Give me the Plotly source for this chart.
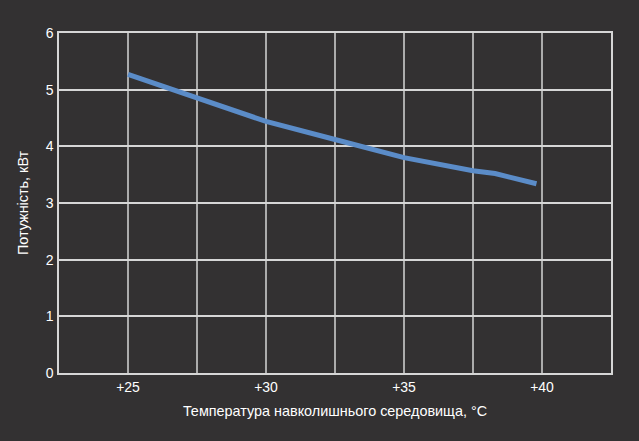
import plotly.graph_objects as go

# Данные
temperature = [25, 27.5, 30, 32.5, 35, 37.5, 38.3, 39.8]
power_kw = [5.27, 4.85, 4.44, 4.12, 3.80, 3.57, 3.52, 3.34]

x_tick_vals = [25, 30, 35, 40]
x_tick_text = ['+25', '+30', '+35', '+40']
y_tick_vals = [0, 1, 2, 3, 4, 5, 6]

bg = '#333132'
grid = '#d6d6d6'
title_font = dict(size=14.4, color='#ffffff')

fig = go.Figure()
fig.add_trace(go.Scatter(x=temperature, y=power_kw, mode='lines',
                         line=dict(color='#5b8cc8', width=5), showlegend=False))

fig.update_layout(
    width=639, height=441,
    paper_bgcolor=bg, plot_bgcolor=bg,
    margin=dict(l=59, r=28, t=33, b=68),
    font=dict(family='Liberation Sans, Arial, sans-serif', size=14, color='#ffffff'),
)
fig.update_xaxes(
    range=[22.5, 42.5], tickvals=x_tick_vals, ticktext=x_tick_text,
    showgrid=False, zeroline=False, showline=True, linecolor=grid, linewidth=1.5, mirror=True,
    ticks='', ticklen=0,
    title=dict(text='Температура навколишнього середовища, °C', standoff=12, font=title_font),
)
# вертикальные линии сетки каждые 2.5 градуса
for gx in [25, 27.5, 30, 32.5, 35, 37.5, 40]:
    fig.add_vline(x=gx, line=dict(color=grid, width=1.5), layer='below')

fig.update_yaxes(
    range=[0, 6], tickvals=y_tick_vals,
    showgrid=True, gridcolor=grid, gridwidth=1.5, zeroline=False,
    showline=True, linecolor=grid, linewidth=1.5, mirror=True,
    ticks='', ticklabelstandoff=1,
    title=dict(text='Потужність, кВт', standoff=14, font=title_font),
)

# убираем отступ body, чтобы график встал в окно без сдвига
fig.write_html("out.html", config={'displayModeBar': False},
               post_script="document.body.style.margin='0';")
